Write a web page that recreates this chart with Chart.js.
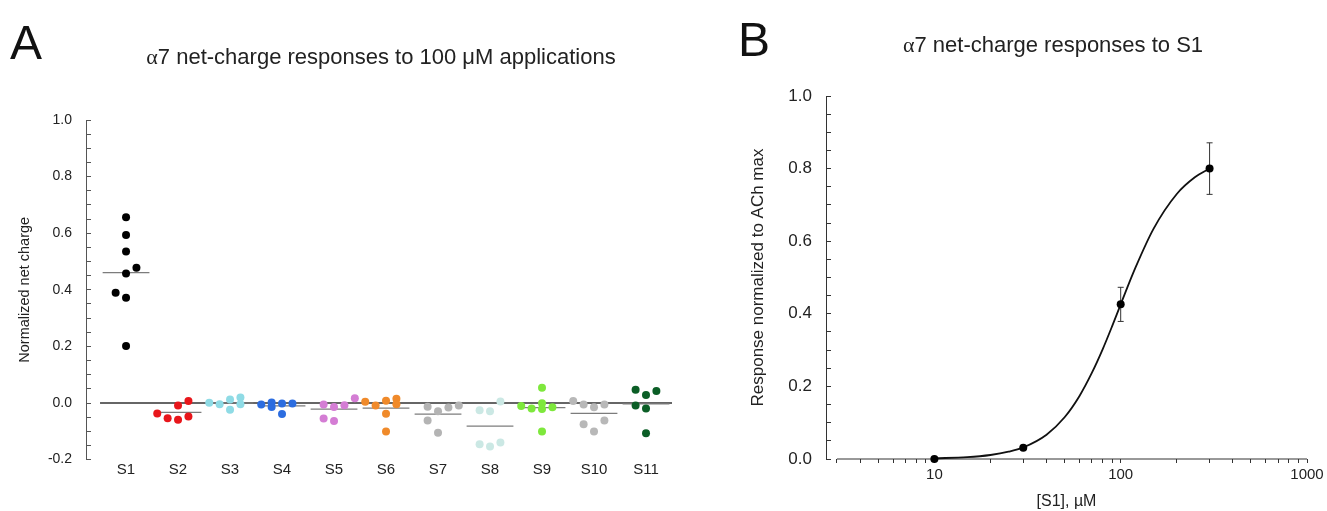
<!DOCTYPE html>
<html>
<head>
<meta charset="utf-8">
<script src="https://cdn.jsdelivr.net/npm/chart.js@4.4.0/dist/chart.umd.min.js"></script>
<style>
  body { margin: 0; background: #fff; }
  #page { position: relative; width: 1327px; height: 511px; overflow: hidden; background: #fff;
          font-family: 'Liberation Sans', Arial, sans-serif; color: #111; }
  .letter { position: absolute; font-size: 48px; line-height: 48px; }
  .title { position: absolute; font-size: 22px; line-height: 22px; text-align: center; white-space: nowrap; color: #222; }
  .greek { font-family: 'Liberation Serif', 'DejaVu Serif', serif; }
  .box { position: absolute; top: 0; height: 511px; }
</style>
</head>
<body>
<div id="page">
  <div class="box" style="left:0;width:700px"><canvas id="chartA" width="700" height="511"></canvas></div>
  <div class="box" style="left:700px;width:627px"><canvas id="chartB" width="627" height="511"></canvas></div>
  <div class="letter" style="left:10px;top:19px">A</div>
  <div class="letter" style="left:738px;top:16px">B</div>
  <div class="title" style="left:131px;width:500px;top:46px"><span class="greek">α</span>7 net-charge responses to 100 μM applications</div>
  <div class="title" style="left:853px;width:400px;top:34px"><span class="greek">α</span>7 net-charge responses to S1</div>
</div>
<script>
Chart.defaults.font.family = "'Liberation Sans', Arial, sans-serif";
Chart.defaults.color = '#222';
Chart.defaults.animation = false;

// ---- panel A: normalized net charge, 100 uM of each compound ----
const groupNames = ['S1', 'S2', 'S3', 'S4', 'S5', 'S6', 'S7', 'S8', 'S9', 'S10', 'S11'];
const groupColors = ['#000000', '#e8161b', '#8fdbe5', '#2c6de0', '#d47dd4', '#f08a2a',
                     '#b4b4b4', '#cbe8e4', '#7ee83c', '#b8b8b8', '#0b5e26'];

// cell values, and column offset of each dot (in category widths) as laid out in the figure
const valsS1 = [0.656, 0.594, 0.535, 0.458, 0.478, 0.390, 0.372, 0.201];
const jitS1 = [0, 0, 0, 0, 0.2, -0.2, 0, 0];
const valsS2 = [-0.037, -0.054, -0.009, -0.059, 0.007, -0.048];
const jitS2 = [-0.4, -0.2, 0, 0, 0.2, 0.2];
const valsS3 = [0.001, -0.004, 0.012, -0.024, 0.019, -0.004];
const jitS3 = [-0.4, -0.2, 0, 0, 0.2, 0.2];
const valsS4 = [-0.005, 0.002, -0.014, -0.002, -0.039, -0.002];
const jitS4 = [-0.4, -0.2, -0.2, 0, 0, 0.2];
const valsS5 = [-0.005, -0.055, -0.014, -0.064, -0.008, 0.017];
const jitS5 = [-0.2, -0.2, 0, 0, 0.2, 0.4];
const valsS6 = [0.004, -0.009, 0.008, -0.038, -0.101, 0.015, -0.004];
const jitS6 = [-0.4, -0.2, 0, 0, 0, 0.2, 0.2];
const valsS7 = [-0.013, -0.062, -0.029, -0.105, -0.016, -0.009];
const jitS7 = [-0.2, -0.2, 0, 0, 0.2, 0.4];
const valsS8 = [-0.026, -0.146, -0.029, -0.154, 0.005, -0.140];
const jitS8 = [-0.2, -0.2, 0, 0, 0.2, 0.2];
const valsS9 = [-0.011, -0.019, 0.054, -0.001, -0.021, -0.101, -0.015];
const jitS9 = [-0.4, -0.2, 0, 0, 0, 0, 0.2];
const valsS10 = [0.007, -0.005, -0.075, -0.015, -0.101, -0.005, -0.062];
const jitS10 = [-0.4, -0.2, -0.2, 0, 0, 0.2, 0.2];
const valsS11 = [0.047, -0.009, 0.028, -0.019, -0.107, 0.042];
const jitS11 = [-0.2, -0.2, 0, 0, 0, 0.2];

// ---- panel B: concentration-response for S1 ----
const doseS1 = [10, 30, 100, 300];
const respS1 = [0.0, 0.031, 0.426, 0.80];
const semS1 = [0, 0, 0.047, 0.071];
// fitted curve
const fitDose = [10, 15, 20, 25, 30, 40, 50, 60, 70, 80, 90, 100, 120, 150, 200, 250, 300];
const fitResp = [0.002, 0.005, 0.011, 0.020, 0.032, 0.067, 0.115, 0.173, 0.237, 0.302, 0.366,
                 0.426, 0.527, 0.634, 0.730, 0.776, 0.800];
const doseLabels = [10, 100, 1000];

const groupVals = [valsS1, valsS2, valsS3, valsS4, valsS5, valsS6, valsS7, valsS8, valsS9, valsS10, valsS11];
const groupJit = [jitS1, jitS2, jitS3, jitS4, jitS5, jitS6, jitS7, jitS8, jitS9, jitS10, jitS11];

function stepTicks(lo, hi, step) {
  const out = [];
  const n = Math.round((hi - lo) / step);
  for (let k = 0; k <= n; k++) out.push({ value: Math.round((lo + k * step) * 1000) / 1000 });
  return out;
}
const isMajor = v => Math.abs(Math.round(v / 0.2) * 0.2 - v) < 1e-6;

// dots, group means and the zero line
const dotSets = groupVals.map((vals, i) => ({
  data: vals.map((v, j) => ({ x: i + 1 + groupJit[i][j], y: v })),
  backgroundColor: groupColors[i],
  borderWidth: 0,
  pointRadius: 4,
  showLine: false,
  order: 0
}));
const meanSets = groupVals.map((vals, i) => {
  const m = vals.reduce((a, b) => a + b, 0) / vals.length;
  return {
    data: [{ x: i + 1 - 0.45, y: m }, { x: i + 1 + 0.45, y: m }],
    showLine: true, borderColor: '#7c7c7c', borderWidth: 1.2, pointRadius: 0, order: 1
  };
});
const zeroSet = {
  data: [{ x: 0.5, y: 0 }, { x: groupNames.length + 0.5, y: 0 }],
  showLine: true, borderColor: '#666', borderWidth: 2, pointRadius: 0, order: 2
};

new Chart(document.getElementById('chartA'), {
  type: 'scatter',
  data: { datasets: [...dotSets, ...meanSets, zeroSet] },
  options: {
    responsive: false,
    events: [],
    clip: false,
    layout: { padding: { top: 120, right: 28, bottom: 0, left: 0 } },
    plugins: { legend: { display: false }, tooltip: { enabled: false } },
    scales: {
      x: {
        type: 'linear', min: 0.23, max: 11.5,
        afterBuildTicks: s => { s.ticks = groupNames.map((n, i) => ({ value: i + 1 })); },
        afterFit: s => { s.height = 51.4; },
        ticks: { callback: v => groupNames[Math.round(v) - 1] || '', autoSkip: false, maxRotation: 0,
                 padding: 1, font: { size: 15 } },
        grid: { display: false, drawTicks: false },
        border: { display: false }
      },
      y: {
        min: -0.2, max: 1.0,
        afterBuildTicks: s => { s.ticks = stepTicks(-0.2, 1.0, 0.05); },
        afterFit: s => { s.width = 86; },
        ticks: { callback: v => isMajor(v) ? v.toFixed(1) : '', autoSkip: false, padding: 19,
                 font: { size: 14 } },
        grid: { drawOnChartArea: false, tickLength: -5, color: '#555' },
        border: { color: '#555', width: 1 },
        title: { display: true, text: 'Normalized net charge', font: { size: 14.5 },
                 padding: { top: 16, bottom: 0 } }
      }
    }
  }
});

// error bars: one gapped line per point, caps drawn as line markers
const errData = [];
doseS1.forEach((d, i) => {
  if (!semS1[i]) return;
  errData.push({ x: d, y: respS1[i] - semS1[i] }, { x: d, y: respS1[i] + semS1[i] }, { x: d, y: null });
});

new Chart(document.getElementById('chartB'), {
  type: 'scatter',
  data: {
    datasets: [
      { data: doseS1.map((d, i) => ({ x: d, y: respS1[i] })), backgroundColor: '#000',
        borderWidth: 0, pointRadius: 4, showLine: false, order: 0 },
      { data: errData, showLine: true, spanGaps: false, borderColor: '#333', borderWidth: 1,
        pointStyle: 'line', pointRadius: 3, pointBorderColor: '#333', pointBorderWidth: 1, order: 1 },
      { data: fitDose.map((d, i) => ({ x: d, y: fitResp[i] })), showLine: true, borderColor: '#111',
        borderWidth: 1.8, pointRadius: 0, cubicInterpolationMode: 'monotone', order: 2 },
      { data: [{ x: 3, y: 0 }, { x: 1000, y: 0 }], showLine: true, borderColor: '#333',
        borderWidth: 1, pointRadius: 0, order: 3 }
    ]
  },
  options: {
    responsive: false,
    events: [],
    clip: false,
    layout: { padding: { top: 96, right: 20, bottom: 0, left: 0 } },
    plugins: { legend: { display: false }, tooltip: { enabled: false } },
    scales: {
      x: {
        type: 'logarithmic', min: 2.62, max: 1000,
        afterBuildTicks: s => {
          const t = [];
          [1, 10, 100].forEach(e => { for (let m = 1; m <= 9; m++) t.push(m * e); });
          t.push(1000);
          s.ticks = t.filter(v => v >= 3).map(v => ({ value: v }));
        },
        afterFit: s => { s.height = 52; },
        ticks: { callback: v => doseLabels.includes(v) ? String(v) : '', autoSkip: false, maxRotation: 0,
                 padding: 3, font: { size: 15 } },
        grid: { drawOnChartArea: false, tickLength: 4, color: '#333' },
        border: { display: false },
        title: { display: true, text: '[S1], µM', font: { size: 16 }, padding: { top: 0, bottom: 0 } }
      },
      y: {
        min: 0, max: 1,
        afterBuildTicks: s => { s.ticks = stepTicks(0, 1, 0.05); },
        afterFit: s => { s.width = 126; },
        ticks: { callback: v => isMajor(v) ? v.toFixed(1) : '', autoSkip: false, padding: 19,
                 font: { size: 17 } },
        grid: { drawOnChartArea: false, tickLength: -5, color: '#333' },
        border: { color: '#333', width: 1 },
        title: { display: true, text: 'Response normalized to ACh max', font: { size: 17 },
                 padding: { top: 48, bottom: 0 } }
      }
    }
  }
});
</script>
</body>
</html>
